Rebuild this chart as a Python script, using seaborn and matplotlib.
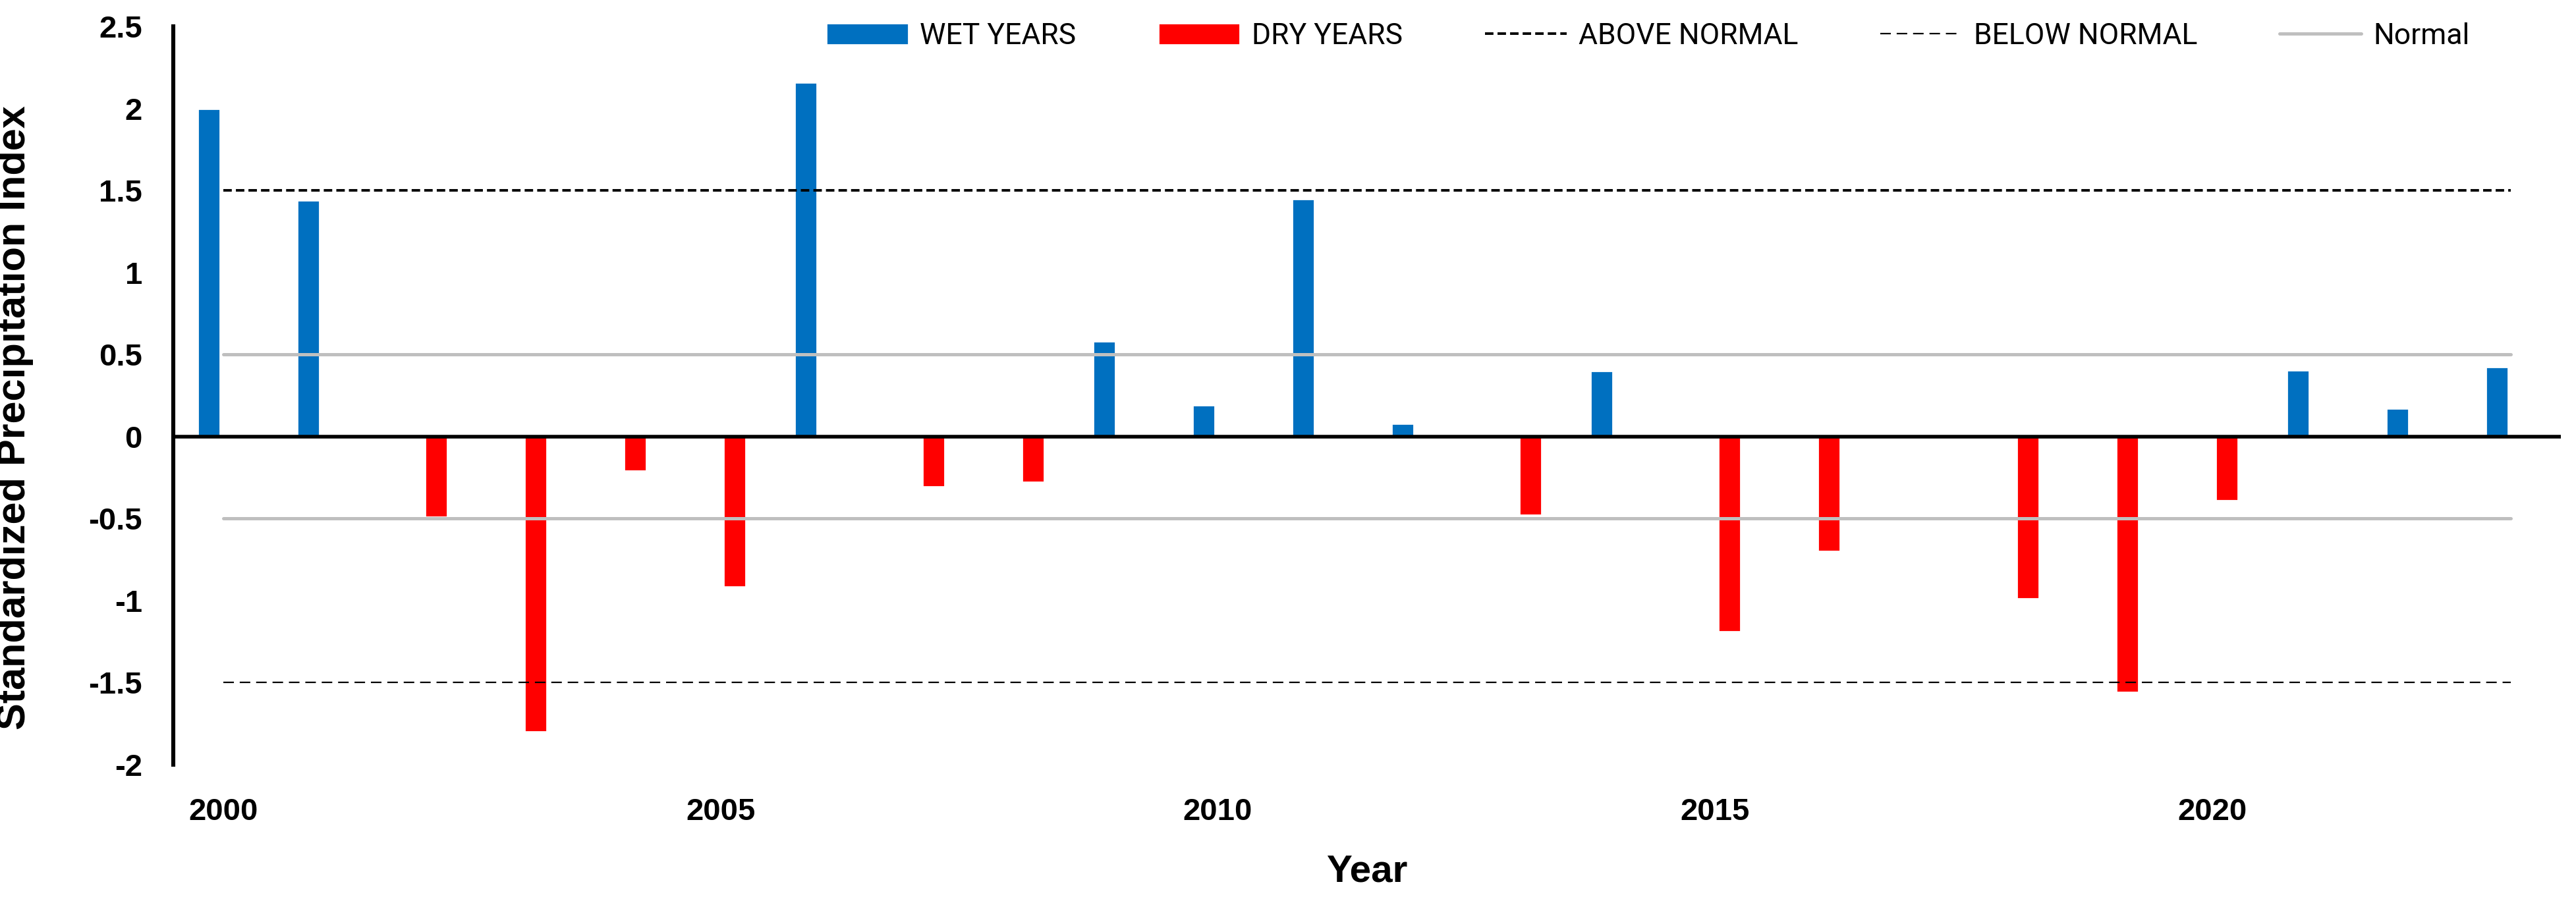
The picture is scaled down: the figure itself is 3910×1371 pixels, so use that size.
import numpy as np
import pandas as pd
import matplotlib
matplotlib.use("Agg")
import matplotlib.pyplot as plt
import seaborn as sns
from matplotlib.lines import Line2D
from matplotlib.patches import Patch


# Data
years = list(range(2000, 2024))
spi = [2.00, 1.44, -0.49, -1.80, -0.21, -0.915, 2.16, -0.305, -0.277, 0.58,
       0.19, 1.45, 0.078, -0.48, 0.40, -1.19, -0.70, 0.0, -0.99, -1.56,
       -0.39, 0.405, 0.17, 0.425]
tick_years = [2000, 2005, 2010, 2015, 2020]

ABOVE_NORMAL = 1.5
BELOW_NORMAL = -1.5
NORMAL_BAND = 0.5

WET_COLOR = "#0070C0"
DRY_COLOR = "#FF0000"
GREY = "#BFBFBF"


def build_frame():
    rows = []
    for y, v in zip(years, spi):
        rows.append({"Year": str(y), "Type": "WET YEARS", "SPI": v if v > 0 else np.nan})
        rows.append({"Year": str(y), "Type": "DRY YEARS", "SPI": v if v < 0 else np.nan})
    return pd.DataFrame(rows)


df = build_frame()

sns.set_style("white")
plt.rcParams["font.family"] = ["Liberation Sans", "DejaVu Sans"]
plt.rcParams["axes.unicode_minus"] = False
plt.rcParams["text.color"] = "black"
plt.rcParams["axes.labelcolor"] = "black"
plt.rcParams["xtick.color"] = "black"
plt.rcParams["ytick.color"] = "black"

fig = plt.figure(figsize=(19.55, 6.855), dpi=200)
ax = fig.add_axes([0.0673, 0.1532, 0.9941 - 0.0673, 0.9708 - 0.1532])

sns.barplot(
    data=df, x="Year", y="SPI", hue="Type",
    hue_order=["WET YEARS", "DRY YEARS"],
    palette={"WET YEARS": WET_COLOR, "DRY YEARS": DRY_COLOR},
    width=0.57, gap=0.2, errorbar=None, legend=False,
    saturation=1, ax=ax, zorder=2,
)

n = len(years)
xpos = np.arange(n)

# Threshold lines (drawn over the bars, from first to last category)
ax.plot(xpos, np.full(n, NORMAL_BAND), color=GREY, lw=1.8, zorder=3)
ax.plot(xpos, np.full(n, -NORMAL_BAND), color=GREY, lw=1.8, zorder=3)
ax.plot(xpos, np.full(n, ABOVE_NORMAL), color="black", lw=1.4,
        dashes=(3.3, 1.6), zorder=4)
ax.plot(xpos, np.full(n, BELOW_NORMAL), color="black", lw=0.8,
        dashes=(7.2, 4.0), zorder=4)

ax.axhline(0, color="black", lw=2.0, zorder=5)

ax.set_xlim(-0.5, n - 0.5)
ax.set_ylim(-2, 2.5)
ax.set_yticks(np.arange(-2, 2.51, 0.5))
ax.set_yticklabels([f"{v:g}" for v in np.arange(-2, 2.51, 0.5)])
ax.set_xticks([years.index(y) for y in tick_years])
ax.set_xticklabels([str(y) for y in tick_years])

ax.tick_params(axis="both", length=0, labelsize=17, colors="black")
ax.tick_params(axis="y", pad=17)
ax.tick_params(axis="x", pad=18)
for lab in ax.get_xticklabels() + ax.get_yticklabels():
    lab.set_fontweight("bold")

for s in ["top", "right", "bottom"]:
    ax.spines[s].set_visible(False)
ax.spines["left"].set_color("black")
ax.spines["left"].set_linewidth(2.2)
ax.spines["left"].set_zorder(6)

ax.set_xlabel("Year", fontsize=21, fontweight="bold", labelpad=15, color="black")
ax.set_ylabel("Standardized Precipitation Index", fontsize=22,
              fontweight="bold", color="black")
ax.yaxis.set_label_coords(-0.0585, 0.47)

handles = [
    Patch(facecolor=WET_COLOR, label="WET YEARS"),
    Patch(facecolor=DRY_COLOR, label="DRY YEARS"),
    Line2D([], [], color="black", lw=1.4, dashes=(3.3, 1.6), label="ABOVE NORMAL"),
    Line2D([], [], color="black", lw=0.8, dashes=(7.2, 4.0), label="BELOW NORMAL"),
    Line2D([], [], color=GREY, lw=1.8, label="Normal"),
]
leg = fig.legend(
    handles=handles, loc="center", bbox_to_anchor=(0.6397, 0.96), ncol=5,
    frameon=False, prop={"family": ["Roboto", "DejaVu Sans"], "size": 16},
    handlelength=2.8, handleheight=0.75, handletextpad=0.4, columnspacing=2.8,
)
for t in leg.get_texts():
    t.set_color("black")

fig.savefig("out.png", dpi=200)
plt.close(fig)
